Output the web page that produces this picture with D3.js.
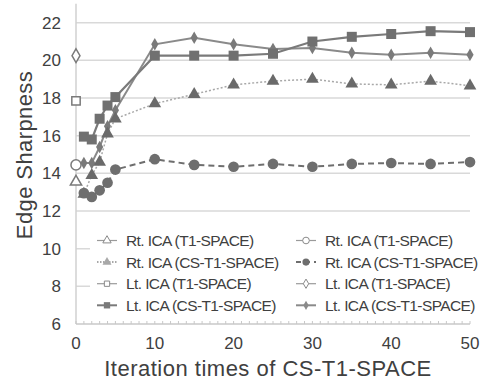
<!DOCTYPE html>
<html>
<head>
<meta charset="utf-8">
<script src="https://cdn.jsdelivr.net/npm/d3@7"></script>
<style>
  body { margin: 0; background: #fff; }
  svg text { font-family: "Liberation Sans", Arial, sans-serif; fill: #404040; }
</style>
</head>
<body>
<div id="chart"></div>
<script>
// iteration counts for the CS series
const iterations = [1, 2, 3, 4, 5, 10, 15, 20, 25, 30, 35, 40, 45, 50];
const rtCS = [12.9, 13.9, 14.6, 16.1, 16.9, 17.7, 18.2, 18.7, 18.9, 19.0, 18.75, 18.7, 18.9, 18.65];
const rtCSb = [12.95, 12.75, 13.1, 13.5, 14.2, 14.75, 14.45, 14.35, 14.5, 14.35, 14.5, 14.55, 14.5, 14.6];
const ltCS = [15.95, 15.8, 16.9, 17.6, 18.05, 20.25, 20.25, 20.25, 20.35, 21.0, 21.25, 21.4, 21.55, 21.5];
const ltCSb = [14.55, 14.55, 15.4, 16.5, 17.35, 20.85, 21.2, 20.85, 20.6, 20.65, 20.4, 20.3, 20.4, 20.3];
// single T1-SPACE references at x = 0
const t1Values = [13.55, 14.45, 17.85, 20.25];
const yTicks = [6, 8, 10, 12, 14, 16, 18, 20, 22];
const xTicks = [0, 10, 20, 30, 40, 50];
const legendLabels = [
  "Rt. ICA (T1-SPACE)", "Rt. ICA (T1-SPACE)",
  "Rt. ICA (CS-T1-SPACE)", "Rt. ICA (CS-T1-SPACE)",
  "Lt. ICA (T1-SPACE)", "Lt. ICA (T1-SPACE)",
  "Lt. ICA (CS-T1-SPACE)", "Lt. ICA (CS-T1-SPACE)"
];

const width = 480, height = 382;
const svg = d3.select("#chart").append("svg")
  .attr("width", width).attr("height", height);

const x = d3.scaleLinear().domain([0, 50]).range([76, 470]);
const y = d3.scaleLinear().domain([6, 22]).range([324, 22.7]);

// gridlines
svg.append("g").selectAll("line")
  .data(yTicks.filter(d => d > 6))
  .join("line")
  .attr("x1", x(0)).attr("x2", x(50))
  .attr("y1", d => y(d)).attr("y2", d => y(d))
  .attr("stroke", "#d9d9d9").attr("stroke-width", 1.5);

// axes lines
svg.append("line")
  .attr("x1", x(0)).attr("x2", x(0))
  .attr("y1", y(23)).attr("y2", y(6))
  .attr("stroke", "#d0d0d0").attr("stroke-width", 1.5);
svg.append("line")
  .attr("x1", x(0)).attr("x2", x(50))
  .attr("y1", y(6)).attr("y2", y(6))
  .attr("stroke", "#c8c8c8").attr("stroke-width", 1.5);
svg.append("g").selectAll("line")
  .data(d3.range(0, 51))
  .join("line")
  .attr("x1", d => x(d)).attr("x2", d => x(d))
  .attr("y1", y(6)).attr("y2", y(6) - 3)
  .attr("stroke", "#c8c8c8");

// tick labels
svg.append("g").selectAll("text")
  .data(yTicks)
  .join("text")
  .attr("x", 61).attr("y", d => y(d) + 6)
  .attr("text-anchor", "end")
  .style("font-size", "17px")
  .text(d => d);
svg.append("g").selectAll("text")
  .data(xTicks)
  .join("text")
  .attr("x", d => x(d)).attr("y", 349)
  .attr("text-anchor", "middle")
  .style("font-size", "17px")
  .text(d => d);

// axis titles
svg.append("text")
  .attr("transform", "translate(32,155) rotate(-90)")
  .attr("text-anchor", "middle")
  .style("font-size", "22px")
  .style("letter-spacing", "0.4px")
  .text("Edge Sharpness");
svg.append("text")
  .attr("x", 268).attr("y", 376)
  .attr("text-anchor", "middle")
  .style("font-size", "22px")
  .style("letter-spacing", "0.5px")
  .text("Iteration times of CS-T1-SPACE");

// series
const series = [
  { values: ltCSb, shape: d3.symbolDiamond, size: 45, line: "#8a8a8a", width: 2, dash: null, fill: "#7a7a7a" },
  { values: ltCS, shape: d3.symbolSquare, size: 100, line: "#7a7a7a", width: 2.2, dash: null, fill: "#707070" },
  { values: rtCS, shape: d3.symbolTriangle, size: 70, line: "#a8a8a8", width: 1.5, dash: "2,2", fill: "#6a6a6a" },
  { values: rtCSb, shape: d3.symbolCircle, size: 90, line: "#6e6e6e", width: 2, dash: "6,4", fill: "#6e6e6e" }
];

const line = d3.line().x(d => x(d[0])).y(d => y(d[1]));

series.forEach(s => {
  const pts = iterations.map((it, i) => [it, s.values[i]]);
  svg.append("path")
    .datum(pts)
    .attr("d", line)
    .attr("fill", "none")
    .attr("stroke", s.line)
    .attr("stroke-width", s.width)
    .attr("stroke-dasharray", s.dash);
  svg.append("g").selectAll("path")
    .data(pts)
    .join("path")
    .attr("transform", d => `translate(${x(d[0])},${y(d[1])})`)
    .attr("d", d3.symbol().type(s.shape).size(s.size))
    .attr("fill", s.fill);
});

// open markers for T1-SPACE
const openShapes = [d3.symbolTriangle, d3.symbolCircle, d3.symbolSquare, d3.symbolDiamond];
const openSizes = [55, 80, 70, 55];
svg.append("g").selectAll("path")
  .data(t1Values)
  .join("path")
  .attr("transform", d => `translate(${x(0)},${y(d)})`)
  .attr("d", (d, i) => d3.symbol().type(openShapes[i]).size(openSizes[i])())
  .attr("fill", "#fff")
  .attr("stroke", "#7a7a7a")
  .attr("stroke-width", 1.5);

// legend
const legend = svg.append("g");
legend.append("rect")
  .attr("x", 90).attr("y", 229).attr("width", 382).attr("height", 89)
  .attr("fill", "#fff");

const legendItems = [
  { shape: d3.symbolTriangle, open: true, size: 30, dash: null, color: "#9a9a9a" },
  { shape: d3.symbolCircle, open: true, size: 35, dash: null, color: "#9a9a9a" },
  { shape: d3.symbolTriangle, open: false, size: 35, dash: "1.5,1.5", color: "#a8a8a8" },
  { shape: d3.symbolCircle, open: false, size: 40, dash: "5,4", color: "#6e6e6e" },
  { shape: d3.symbolSquare, open: true, size: 28, dash: null, color: "#9a9a9a" },
  { shape: d3.symbolDiamond, open: true, size: 25, dash: null, color: "#9a9a9a" },
  { shape: d3.symbolSquare, open: false, size: 40, dash: null, color: "#7a7a7a" },
  { shape: d3.symbolDiamond, open: false, size: 25, dash: null, color: "#8a8a8a" }
];

legendItems.forEach((it, i) => {
  const col = i % 2, row = Math.floor(i / 2);
  const lx = col === 0 ? 97 : 296;
  const ly = 240.5 + row * 21.6;
  legend.append("line")
    .attr("x1", lx).attr("x2", lx + 20)
    .attr("y1", ly).attr("y2", ly)
    .attr("stroke", it.color)
    .attr("stroke-width", it.open ? 1.2 : 2)
    .attr("stroke-dasharray", it.dash);
  legend.append("path")
    .attr("transform", `translate(${lx + 10},${ly})`)
    .attr("d", d3.symbol().type(it.shape).size(it.size))
    .attr("fill", it.open ? "#fff" : it.color)
    .attr("stroke", it.open ? "#8a8a8a" : "none")
    .attr("stroke-width", 1);
  legend.append("text")
    .attr("x", lx + 29).attr("y", ly + 5.5)
    .style("font-size", "15.5px")
    .style("letter-spacing", "-0.6px")
    .text(legendLabels[i]);
});
</script>
</body>
</html>
